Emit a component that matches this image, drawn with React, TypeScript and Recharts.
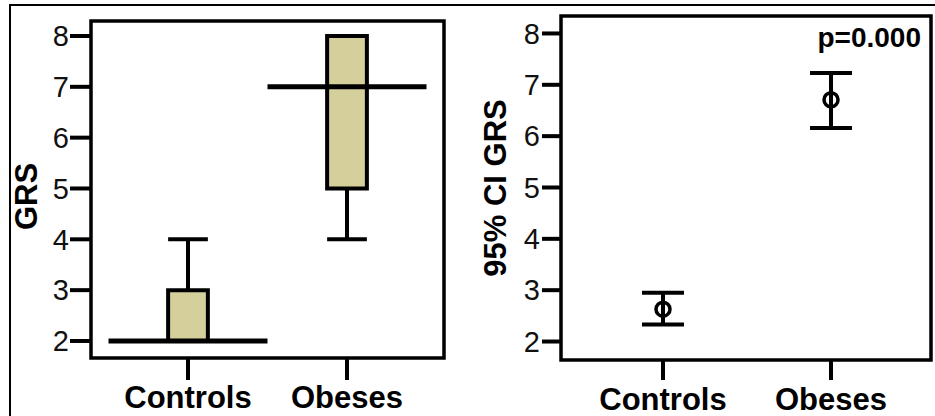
import {
  ComposedChart,
  XAxis,
  YAxis,
  ReferenceArea,
  ReferenceLine,
  Scatter,
  ErrorBar,
} from "recharts";

const groups = ["Controls", "Obeses"];
const groupX = [1, 2];

// box plot summary per group
const boxMin = [2, 4];
const boxQ1 = [2, 5];
const boxMedian = [2, 7];
const boxQ3 = [3, 8];
const boxMax = [4, 8];

// mean with 95% CI per group
const ciMean = [2.63, 6.71];
const ciLower = [2.33, 6.16];
const ciUpper = [2.95, 7.23];

const yTicks = [2, 3, 4, 5, 6, 7, 8];
const pValue = "p=0.000";

const FONT = "'Liberation Sans', Arial, sans-serif";
const BOX_FILL = "#d4cf9b";
const BOX_HALF = 0.125;
const MEDIAN_HALF = 0.5;

const leftX: [number, number] = [0.39, 2.61];
const leftY: [number, number] = [1.665, 8.295];
const rightX: [number, number] = [0.393, 2.595];
const rightY: [number, number] = [1.64, 8.34];

const boxData = groups.map((g, i) => ({ x: groupX[i], median: boxMedian[i], name: g }));
const ciData = groups.map((g, i) => ({
  x: groupX[i],
  mean: ciMean[i],
  err: [ciMean[i] - ciLower[i], ciUpper[i] - ciMean[i]],
  name: g,
}));

const xTickFmt = (v: number) => groups[groupX.indexOf(v)] ?? "";

const yTickStyle = { fill: "#111", fontSize: 29, fontFamily: FONT };
const xTickStyle = { fill: "#000", fontSize: 31, fontWeight: 700, fontFamily: FONT };
const tickLineStyle = { stroke: "#000", strokeWidth: 4 };

type VB = { x: number; y: number; width: number; height: number };

const RotatedLabel = ({ viewBox, text, dx, dy }: { viewBox?: VB; text: string; dx: number; dy: number }) => {
  if (!viewBox) return null;
  const cx = viewBox.x + dx;
  const cy = viewBox.y + viewBox.height / 2 + dy;
  return (
    <text
      x={cx}
      y={cy}
      transform={`rotate(-90 ${cx} ${cy})`}
      textAnchor="middle"
      dominantBaseline="central"
      fontFamily={FONT}
      fontWeight={700}
      fontSize={31}
      fill="#000"
    >
      {text}
    </text>
  );
};

const Ring = (props: { cx?: number; cy?: number }) => (
  <circle cx={props.cx} cy={props.cy} r={7} fill="none" stroke="#000" strokeWidth={3.5} />
);

const Hidden = () => <g />;

function BoxPanel() {
  return (
    <ComposedChart
      width={470}
      height={416}
      data={boxData}
      margin={{ top: 21, right: 26, bottom: 0, left: 10 }}
    >
      <XAxis
        type="number"
        dataKey="x"
        domain={leftX}
        ticks={groupX}
        tickFormatter={xTickFmt}
        allowDataOverflow
        height={58}
        axisLine={false}
        tickSize={22}
        tickMargin={6}
        tickLine={tickLineStyle}
        tick={xTickStyle}
      />
      <YAxis
        type="number"
        domain={leftY}
        ticks={yTicks}
        allowDataOverflow
        width={81}
        axisLine={false}
        tickSize={21}
        tickMargin={1}
        tickLine={tickLineStyle}
        tick={yTickStyle}
        label={<RotatedLabel text="GRS" dx={16} dy={7} />}
      />
      <Scatter dataKey="median" shape={<Hidden />} isAnimationActive={false} />

      {/* whiskers and caps */}
      {groupX.map((x, i) => (
        <ReferenceLine
          key={`wu${i}`}
          segment={[{ x, y: boxQ3[i] }, { x, y: boxMax[i] }]}
          stroke="#000"
          strokeWidth={4}
        />
      ))}
      {groupX.map((x, i) => (
        <ReferenceLine
          key={`wl${i}`}
          segment={[{ x, y: boxQ1[i] }, { x, y: boxMin[i] }]}
          stroke="#000"
          strokeWidth={4}
        />
      ))}
      {groupX.map((x, i) => (
        <ReferenceLine
          key={`cu${i}`}
          segment={[{ x: x - BOX_HALF, y: boxMax[i] }, { x: x + BOX_HALF, y: boxMax[i] }]}
          stroke="#000"
          strokeWidth={4}
        />
      ))}
      {groupX.map((x, i) => (
        <ReferenceLine
          key={`cl${i}`}
          segment={[{ x: x - BOX_HALF, y: boxMin[i] }, { x: x + BOX_HALF, y: boxMin[i] }]}
          stroke="#000"
          strokeWidth={4}
        />
      ))}

      {/* interquartile boxes */}
      {groupX.map((x, i) => (
        <ReferenceArea
          key={`b${i}`}
          x1={x - BOX_HALF}
          x2={x + BOX_HALF}
          y1={boxQ1[i]}
          y2={boxQ3[i]}
          fill={BOX_FILL}
          fillOpacity={1}
          stroke="#000"
          strokeWidth={4}
        />
      ))}

      {/* medians */}
      {groupX.map((x, i) => (
        <ReferenceLine
          key={`m${i}`}
          segment={[{ x: x - MEDIAN_HALF, y: boxMedian[i] }, { x: x + MEDIAN_HALF, y: boxMedian[i] }]}
          stroke="#000"
          strokeWidth={5}
        />
      ))}

      {/* plot frame */}
      <ReferenceArea
        x1={leftX[0]}
        x2={leftX[1]}
        y1={leftY[0]}
        y2={leftY[1]}
        fill="none"
        stroke="#000"
        strokeWidth={3.5}
      />
    </ComposedChart>
  );
}

function CiPanel() {
  return (
    <ComposedChart
      width={465}
      height={416}
      data={ciData}
      margin={{ top: 16, right: 4, bottom: 0, left: 10 }}
    >
      <XAxis
        type="number"
        dataKey="x"
        domain={rightX}
        ticks={groupX}
        tickFormatter={xTickFmt}
        allowDataOverflow
        height={56}
        axisLine={false}
        tickSize={20}
        tickMargin={8}
        tickLine={tickLineStyle}
        tick={xTickStyle}
      />
      <YAxis
        type="number"
        domain={rightY}
        ticks={yTicks}
        allowDataOverflow
        width={81}
        axisLine={false}
        tickSize={19}
        tickMargin={2}
        tickLine={tickLineStyle}
        tick={yTickStyle}
        label={<RotatedLabel text="95% CI GRS" dx={15} dy={0} />}
      />
      <Scatter dataKey="mean" shape={<Ring />} isAnimationActive={false}>
        <ErrorBar dataKey="err" direction="y" width={21} stroke="#000" strokeWidth={4} />
      </Scatter>

      <ReferenceArea
        x1={rightX[0]}
        x2={rightX[1]}
        y1={rightY[0]}
        y2={rightY[1]}
        fill="none"
        stroke="#000"
        strokeWidth={3.5}
      />
    </ComposedChart>
  );
}

export default function App() {
  return (
    <div
      style={{
        position: "absolute",
        left: 0,
        top: 0,
        width: 935,
        height: 416,
        background: "#fff",
        overflow: "hidden",
        fontFamily: FONT,
      }}
    >
      <div style={{ position: "absolute", left: 0, top: 0 }}>
        <BoxPanel />
      </div>
      <div style={{ position: "absolute", left: 470, top: 0 }}>
        <CiPanel />
      </div>
      <svg
        width={935}
        height={416}
        style={{ position: "absolute", left: 0, top: 0, pointerEvents: "none" }}
      >
        <line x1={9} y1={5} x2={935} y2={5} stroke="#000" strokeWidth={2} />
        <line x1={10} y1={4} x2={10} y2={416} stroke="#000" strokeWidth={2} />
        <text
          x={921}
          y={47}
          textAnchor="end"
          fontFamily={FONT}
          fontWeight={700}
          fontSize={28}
          fill="#000"
        >
          {pValue}
        </text>
      </svg>
    </div>
  );
}
